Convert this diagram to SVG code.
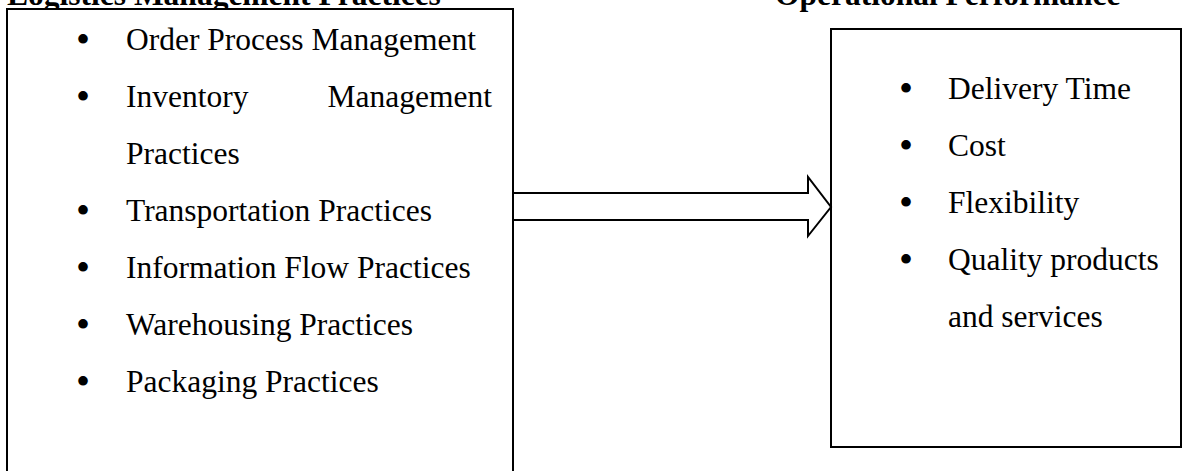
<svg xmlns="http://www.w3.org/2000/svg" width="1182" height="471" viewBox="0 0 1182 471">
  <style>
    .box { fill: #ffffff; stroke: #000000; stroke-width: 2; }
    .t { font-family: "Liberation Serif", "Times New Roman", serif; font-size: 31.5px; fill: #000000; }
    .h { font-family: "Liberation Serif", "Times New Roman", serif; font-size: 31.5px; font-weight: bold; fill: #000000; }
    .b { font-family: "Liberation Serif", "Times New Roman", serif; font-size: 40px; fill: #000000; text-anchor: middle; }
    .arrow { fill: #ffffff; stroke: #000000; stroke-width: 2; stroke-linejoin: miter; }
  </style>
  <rect width="1182" height="471" fill="#ffffff"/>

  <g id="logistics-practices">
    <text class="h" x="7" y="5">Logistics Management Practices</text>
    <rect class="box" x="7" y="9" width="506" height="475"/>
    <text class="b" x="83" y="53">•</text>
    <text class="t" x="126" y="50">Order Process Management</text>
    <text class="b" x="83" y="110">•</text>
    <text class="t" x="126" y="107">Inventory</text>
    <text class="t" x="492" y="107" text-anchor="end">Management</text>
    <text class="t" x="126" y="164">Practices</text>
    <text class="b" x="83" y="224">•</text>
    <text class="t" x="126" y="221">Transportation Practices</text>
    <text class="b" x="83" y="281">•</text>
    <text class="t" x="126" y="278">Information Flow Practices</text>
    <text class="b" x="83" y="338">•</text>
    <text class="t" x="126" y="335">Warehousing Practices</text>
    <text class="b" x="83" y="395">•</text>
    <text class="t" x="126" y="392">Packaging Practices</text>
  </g>

  <g id="operational-performance">
    <text class="h" x="775" y="5">Operational Performance</text>
    <rect class="box" x="831" y="29" width="350" height="418"/>
    <text class="b" x="906" y="102">•</text>
    <text class="t" x="948" y="99">Delivery Time</text>
    <text class="b" x="906" y="159">•</text>
    <text class="t" x="948" y="156">Cost</text>
    <text class="b" x="906" y="216">•</text>
    <text class="t" x="948" y="213">Flexibility</text>
    <text class="b" x="906" y="273">•</text>
    <text class="t" x="948" y="270">Quality products</text>
    <text class="t" x="948" y="327">and services</text>
  </g>

  <g id="connectors">
    <polygon class="arrow" points="513,193 808,193 808,177 831,207 808,236 808,220 513,220"/>
  </g>
</svg>
